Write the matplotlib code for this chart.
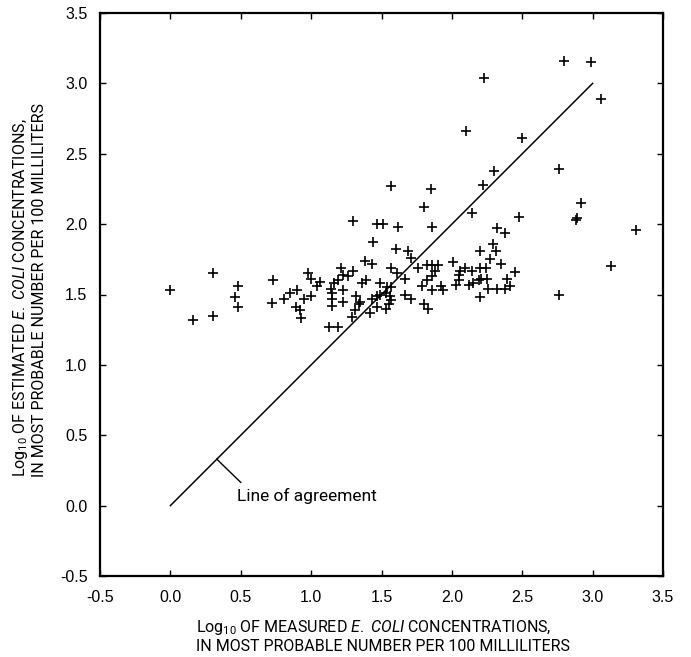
"""Scatter of estimated vs measured log10 E. coli concentrations with a 1:1 line."""

import matplotlib

matplotlib.use("Agg")
from matplotlib import pyplot as plt

# ------------------------------------------------------------------ #
#  Data
# ------------------------------------------------------------------ #
measured = [
    0.00, 0.16, 0.30, 0.30, 0.48, 0.46, 0.48, 0.73, 0.72,
    0.81, 0.85, 0.90, 0.95, 1.00, 0.89, 0.92, 0.93,
    0.98, 1.00, 1.06, 1.04, 1.16, 1.19, 1.14, 1.15, 1.23,
    1.15, 1.15, 1.23, 1.21, 1.30, 1.23, 1.26,
    1.36, 1.39, 1.49, 1.54, 1.57, 1.32, 1.35, 1.34,
    1.43, 1.47, 1.49, 1.53, 1.56, 1.55, 1.31, 1.29,
    1.42, 1.47, 1.53, 1.13, 1.19,
    1.30, 1.47, 1.51, 1.62, 1.44, 1.60, 1.38, 1.43, 1.57, 1.57,
    1.69, 1.71, 1.61, 1.76, 1.82, 1.86, 1.90, 1.88, 1.86,
    1.67, 1.82, 1.79, 1.86, 1.92, 1.94, 1.57, 1.67, 1.71, 1.80, 1.83,
    1.85, 2.22, 1.80, 2.14, 1.86, 2.32, 2.38,
    2.29, 2.31, 2.20, 2.27, 2.35, 2.01,
    2.06, 2.09, 2.05, 2.14, 2.20, 2.24, 2.05, 2.03,
    2.12, 2.15, 2.19, 2.21, 2.25, 2.26, 2.32, 2.38, 2.39, 2.20,
    2.41, 2.45, 2.48,
    2.10, 2.23, 2.50, 2.30, 2.76, 2.80, 2.99, 3.06, 2.92, 2.89, 2.88,
    3.31, 3.13, 2.76,
]
estimated = [
    1.53, 1.32, 1.65, 1.35, 1.56, 1.48, 1.41, 1.60, 1.44,
    1.47, 1.51, 1.53, 1.47, 1.49, 1.41, 1.39, 1.33,
    1.65, 1.61, 1.59, 1.56, 1.58, 1.60, 1.54, 1.51, 1.53,
    1.47, 1.42, 1.45, 1.69, 1.67, 1.64, 1.63,
    1.58, 1.60, 1.58, 1.55, 1.55, 1.49, 1.45, 1.43,
    1.47, 1.49, 1.50, 1.51, 1.49, 1.43, 1.39, 1.34,
    1.37, 1.41, 1.40, 1.27, 1.27,
    2.02, 2.00, 2.00, 1.98, 1.87, 1.82, 1.74, 1.72, 1.69, 2.27,
    1.81, 1.76, 1.65, 1.69, 1.71, 1.71, 1.71, 1.67, 1.63,
    1.61, 1.60, 1.56, 1.53, 1.56, 1.53, 1.46, 1.50, 1.47, 1.43, 1.40,
    2.25, 2.28, 2.12, 2.08, 1.98, 1.97, 1.94,
    1.86, 1.81, 1.81, 1.75, 1.72, 1.73,
    1.67, 1.69, 1.64, 1.67, 1.69, 1.69, 1.60, 1.57,
    1.57, 1.58, 1.60, 1.61, 1.61, 1.54, 1.54, 1.54, 1.61, 1.48,
    1.56, 1.66, 2.05,
    2.66, 3.04, 2.61, 2.38, 2.39, 3.16, 3.15, 2.89, 2.15, 2.04, 2.03,
    1.96, 1.70, 1.50,
]

agreement = [0.0, 3.0]
ticks = [-0.5, 0.0, 0.5, 1.0, 1.5, 2.0, 2.5, 3.0, 3.5]
tick_labels = ["-0.5", "0.0", "0.5", "1.0", "1.5", "2.0", "2.5", "3.0", "3.5"]

# no condensed face installed, Roboto is the narrowest of what is there
label_font = ["Roboto", "DejaVu Sans"]
plt.rcParams["mathtext.fontset"] = "custom"
plt.rcParams["mathtext.rm"] = "Roboto"
plt.rcParams["mathtext.it"] = "Roboto:italic"


def main() -> None:
    W, H = 691, 657
    fig = plt.figure(figsize=(W / 100, H / 100), dpi=100)
    ax = fig.add_axes([100 / W, 1 - 576 / H, 563 / W, 563 / H])

    ax.plot(measured, estimated, linestyle="none", marker="+", markersize=7.5,
            markeredgewidth=1.2, color="black")
    ax.plot(agreement, agreement, color="black", linewidth=1.1)

    # leader line and label for the 1:1 line
    ax.plot([0.33, 0.50], [0.33, 0.165], color="black", linewidth=1.0)
    ax.text(0.47, 0.065, "Line of agreement", family=label_font, fontsize=12.5,
            ha="left", va="center")

    ax.set_xlim(-0.5, 3.5)
    ax.set_ylim(-0.5, 3.5)
    ax.set_xticks(ticks)
    ax.set_yticks(ticks)
    ax.set_xticklabels(tick_labels, family="Liberation Sans", fontsize=11.5)
    ax.set_yticklabels(tick_labels, family="Liberation Sans", fontsize=11.5)
    ax.tick_params(axis="x", direction="in", length=4, width=1.0, top=True, pad=10)
    ax.tick_params(axis="y", direction="in", length=4, width=1.0, right=True, pad=9)
    for spine in ax.spines.values():
        spine.set_linewidth(1.6)

    fig.text(383 / W, 1 - 636 / H,
             "Log$_{10}$ OF MEASURED $\\it{E.}$ $\\it{COLI}$ CONCENTRATIONS,\n"
             "IN MOST PROBABLE NUMBER PER 100 MILLILITERS",
             family=label_font, fontsize=11.5, ha="center", va="center",
             multialignment="left", linespacing=1.1)
    fig.text(29 / W, 1 - 290 / H,
             "Log$_{10}$ OF ESTIMATED $\\it{E.}$ $\\it{COLI}$ CONCENTRATIONS,\n"
             "IN MOST PROBABLE NUMBER PER 100 MILLILITERS",
             family=label_font, fontsize=11.5, ha="center", va="center",
             rotation=90, multialignment="left", linespacing=1.1)

    fig.savefig("out.png", dpi=100)


if __name__ == "__main__":
    main()
